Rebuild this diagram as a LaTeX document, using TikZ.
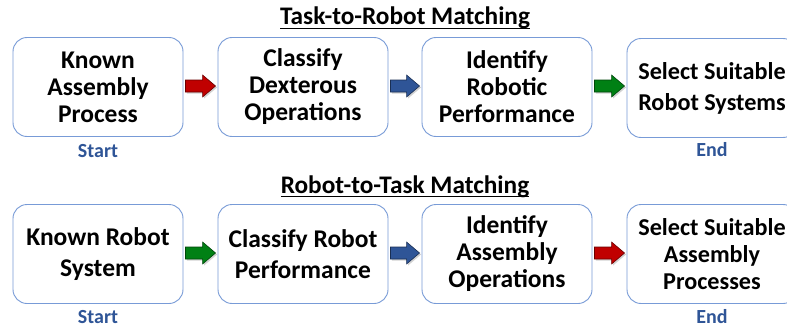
\documentclass[tikz,border=0pt]{standalone}
\usepackage{fontspec}
\setmainfont{Carlito}
\usetikzlibrary{calc,shadows}
\definecolor{boxblue}{RGB}{120,155,215}
\definecolor{lblblue}{RGB}{47,85,151}
\definecolor{arrred}{RGB}{192,0,0}
\definecolor{arrblue}{RGB}{47,85,151}
\definecolor{arrgreen}{RGB}{0,128,20}
\newcommand{\myul}[1]{\setbox0\hbox{#1}\rlap{\rule[-4.3pt]{\wd0}{1.7pt}}\box0}
\newcommand{\barrow}[3]{%
\path[fill=#3, draw=#3!55!black, line width=0.6pt, drop shadow={shadow xshift=1.5pt,shadow yshift=-1.5pt,opacity=0.35}]
 let \p1=($(#1.east)+(2,-1)$), \p2=($(#2.west)+(-2,-1)$) in
 (\x1,{\y1+6pt}) -- ({\x2-13pt},{\y1+6pt}) -- ({\x2-13pt},{\y1+11pt}) -- (\x2,\y1) -- ({\x2-13pt},{\y1-11pt}) -- ({\x2-13pt},{\y1-6pt}) -- (\x1,{\y1-6pt}) -- cycle;}
\begin{document}
\begin{tikzpicture}[x=1pt,y=-1pt,
  box/.style={draw=boxblue, line width=0.9pt, rounded corners=14pt, minimum width=170pt, minimum height=99pt, align=center, inner sep=0pt, font=\fontsize{25.5}{27}\selectfont\bfseries},
  box2/.style={box, font=\fontsize{25.5}{31}\selectfont\bfseries},
  endbox/.style={box, font=\fontsize{24.2}{27}\selectfont\bfseries},
  endbox2/.style={box, font=\fontsize{24.2}{31}\selectfont\bfseries},
  ttl/.style={anchor=base, inner sep=0pt, font=\fontsize{25.3}{27}\selectfont\bfseries},
  lbl/.style={text=lblblue, inner sep=0pt, font=\fontsize{20}{22}\selectfont\bfseries}]
\clip (0,0) rectangle (787,329);
\fill[white] (0,0) rectangle (787,329);
% titles
\node[ttl] (title1) at (405,25) {\myul{Task-to-Robot Matching}};
\node[ttl] (title2) at (405,193) {\myul{Robot-to-Task Matching}};
% top row
\node[box] (t1) at (98,87) {Known\\Assembly\\Process};
\node[box] (t2) at (303,87) {Classify\\Dexterous\\Operations};
\node[box] (t3) at (507,87) {Identify\\Robotic\\Performance};
\node[endbox2] (t4) at (712,88) {Select Suitable\\Robot Systems};
\node[lbl] (ts) at (98,151) {Start};
\node[lbl] (te) at (712,150) {End};
% bottom row
\node[box2] (b1) at (98,254) {Known Robot\\System};
\node[box2] (b2) at (303,254) {Classify Robot\\Performance};
\node[box] (b3) at (507,254) {Identify\\Assembly\\Operations};
\node[endbox] (b4) at (712,254) {Select Suitable\\Assembly\\Processes};
\node[lbl] (bs) at (98,317) {Start};
\node[lbl] (be) at (712,317) {End};
% arrows
\barrow{t1}{t2}{arrred}
\barrow{t2}{t3}{arrblue}
\barrow{t3}{t4}{arrgreen}
\barrow{b1}{b2}{arrgreen}
\barrow{b2}{b3}{arrblue}
\barrow{b3}{b4}{arrred}
\end{tikzpicture}
\end{document}
